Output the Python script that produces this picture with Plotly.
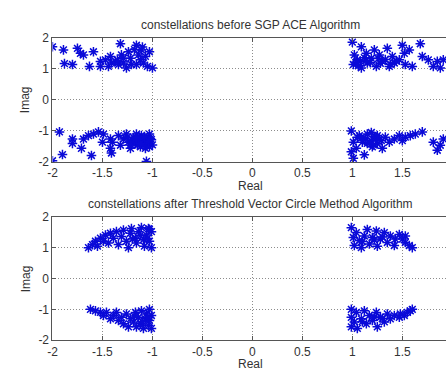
import plotly.graph_objects as go

# ---- data ----
before_x = [
    # top-left
    -2.0, -1.89, -1.88, -1.80, -1.75, -1.72, -1.69, -1.63, -1.59, -1.52, -1.52, -1.47, -1.42, -1.41,
    -1.37, -1.34, -1.32, -1.31, -1.29, -1.26, -1.24, -1.22, -1.21, -1.16, -1.14, -1.12, -1.11, -1.09,
    -1.05, -1.03, -1.0, -1.16, -1.07, -1.44, -1.29, -1.18, -1.10, -1.35,
    # bottom-left
    -1.93, -1.90, -2.0, -1.80, -1.80, -1.71, -1.69, -1.64, -1.61, -1.59, -1.54, -1.50, -1.49, -1.42,
    -1.42, -1.41, -1.40, -1.34, -1.32, -1.29, -1.26, -1.24, -1.22, -1.19, -1.17, -1.16, -1.14, -1.12,
    -1.11, -1.09, -1.07, -1.06, -1.04, -1.03, -1.03, -1.06, -1.20, -1.15, -1.10, -1.05, -1.13, -1.08,
    -1.25, -1.18, -1.02, -1.00, -1.12, -1.04, -1.16, -1.08, -1.01, -1.22,
    # top-right
    1.0, 1.09, 1.02, 1.01, 1.05, 1.09, 1.14, 1.15, 1.19, 1.22, 1.24, 1.27, 1.30, 1.35, 1.37, 1.40,
    1.42, 1.47, 1.50, 1.52, 1.53, 1.57, 1.60, 1.68, 1.70, 1.76, 1.81, 1.85, 1.88, 1.91, 1.08, 1.28,
    1.18, 1.12, 1.33, 1.44, 1.04, 1.14, 1.26, 1.38, 1.06,
    # bottom-right
    0.99, 1.01, 0.99, 1.01, 1.04, 1.07, 1.10, 1.12, 1.15, 1.19, 1.20, 1.24, 1.25, 1.29, 1.30, 1.33,
    1.37, 1.42, 1.47, 1.50, 1.53, 1.58, 1.63, 1.70, 1.81, 1.85, 1.88, 1.91, 1.19, 1.22, 1.27, 1.15,
    1.05, 1.21, 1.13, 1.17, 1.25, 1.09,
]
before_y = [
    1.71, 1.61, 1.17, 1.14, 1.66, 1.50, 1.45, 1.08, 1.55, 1.08, 1.24, 1.29, 1.40, 1.19,
    1.24, 1.14, 1.81, 1.45, 1.19, 1.03, 1.55, 1.34, 1.14, 1.76, 1.45, 1.29, 1.61, 1.19,
    1.08, 1.55, 1.03, 1.14, 1.40, 1.08, 1.34, 1.62, 1.70, 1.28,
    -1.03, -1.76, -1.96, -1.26, -1.40, -1.56, -1.26, -1.15, -1.79, -1.10, -1.03, -1.36, -1.10, -1.26,
    -1.56, -1.71, -1.36, -1.15, -1.46, -1.26, -1.10, -1.36, -1.56, -1.21, -1.41, -1.10, -1.31, -1.51,
    -1.15, -1.36, -1.56, -1.26, -1.41, -1.10, -1.51, -1.98, -1.30, -1.45, -1.25, -1.30, -1.20, -1.45,
    -1.20, -1.35, -1.25, -1.45, -1.40, -1.33, -1.22, -1.18, -1.28, -1.45,
    1.86, 1.71, 1.45, 1.14, 1.29, 1.03, 1.50, 1.19, 1.34, 1.61, 1.08, 1.45, 1.24, 1.66, 1.08, 1.40,
    1.19, 1.29, 1.76, 1.50, 1.14, 1.61, 1.08, 1.81, 1.40, 1.29, 1.08, 1.24, 1.03, 1.29, 1.24, 1.18,
    1.20, 1.36, 1.30, 1.25, 1.22, 1.28, 1.33, 1.15, 1.10,
    -1.0, -1.36, -1.67, -1.88, -1.56, -1.15, -1.36, -1.77, -1.10, -1.31, -1.51, -1.20, -1.41, -1.31,
    -1.56, -1.20, -1.36, -1.26, -1.15, -1.31, -1.20, -1.15, -1.10, -1.03, -1.36, -1.62, -1.46, -1.26,
    -1.05, -1.18, -1.28, -1.40, -1.20, -1.45, -1.25, -1.38, -1.15, -1.22,
]

after_x = [
    # top-left
    -1.64, -1.60, -1.57, -1.55, -1.52, -1.49, -1.47, -1.44, -1.42, -1.39, -1.36, -1.34, -1.31, -1.29,
    -1.26, -1.24, -1.22, -1.21, -1.17, -1.16, -1.14, -1.11, -1.09, -1.08, -1.06, -1.04, -1.03, -1.01,
    -1.01, -1.03, -1.12, -1.20, -1.05,
    # bottom-left
    -1.62, -1.57, -1.52, -1.49, -1.46, -1.42, -1.39, -1.36, -1.34, -1.31, -1.29, -1.26, -1.24, -1.22,
    -1.19, -1.17, -1.16, -1.14, -1.12, -1.11, -1.09, -1.07, -1.06, -1.04, -1.03, -1.03, -1.01, -1.01,
    -1.18, -1.10, -1.05,
    # top-right
    0.99, 1.01, 1.02, 1.04, 1.07, 1.09, 1.12, 1.15, 1.17, 1.20, 1.24, 1.25, 1.28, 1.32, 1.35, 1.38,
    1.42, 1.43, 1.47, 1.50, 1.53, 1.57, 1.60, 1.53, 1.10, 1.22, 1.30,
    # bottom-right
    0.99, 0.99, 0.99, 1.02, 1.04, 1.05, 1.09, 1.12, 1.14, 1.17, 1.20, 1.24, 1.25, 1.28, 1.32, 1.35,
    1.38, 1.42, 1.47, 1.52, 1.55, 1.58, 1.60, 1.48, 1.22, 1.10, 1.30,
]
after_y = [
    1.0, 1.10, 1.21, 1.05, 1.31, 1.21, 1.41, 1.15, 1.47, 1.31, 1.52, 1.10, 1.36, 1.57,
    1.21, 1.0, 1.47, 1.62, 1.31, 1.15, 1.52, 1.65, 1.26, 1.05, 1.41, 1.62, 1.21, 1.0,
    1.52, 1.60, 1.40, 1.28, 1.30,
    -1.0, -1.05, -1.10, -1.20, -1.10, -1.31, -1.20, -1.10, -1.36, -1.26, -1.47, -1.15, -1.57, -1.31,
    -1.41, -1.10, -1.57, -1.26, -1.47, -1.05, -1.62, -1.31, -1.15, -1.52, -1.0, -1.36, -1.62, -1.20,
    -1.22, -1.40, -1.28,
    1.65, 1.33, 1.07, 1.49, 1.23, 1.0, 1.38, 1.59, 1.12, 1.33, 1.54, 1.05, 1.28, 1.49, 1.17, 1.38,
    1.07, 1.28, 1.43, 1.28, 1.17, 1.07, 1.0, 1.38, 1.20, 1.25, 1.35,
    -1.0, -1.26, -1.57, -1.41, -1.10, -1.62, -1.31, -1.05, -1.47, -1.20, -1.36, -1.10, -1.57, -1.26,
    -1.41, -1.15, -1.31, -1.20, -1.26, -1.20, -1.10, -1.05, -1.0, -1.15, -1.25, -1.40, -1.30,
]

x_ticks = [-2, -1.5, -1, -0.5, 0, 0.5, 1, 1.5, 2]
x_tick_text = ["-2", "-1.5", "-1", "-0.5", "0", "0.5", "1", "1.5", "2"]
y_ticks = [-2, -1, 0, 1, 2]
y_tick_text = ["-2", "-1", "0", "1", "2"]
titles = ["constellations before SGP ACE Algorithm",
          "constellations after Threshold Vector Circle Method Algorithm"]

W, H = 446, 376
marker = dict(symbol="asterisk-open", size=8, color="#0a0ad8",
              line=dict(color="#0a0ad8", width=1.5))

fig = go.Figure()
fig.add_trace(go.Scatter(x=before_x, y=before_y, mode="markers", marker=marker,
                         xaxis="x", yaxis="y", showlegend=False))
fig.add_trace(go.Scatter(x=after_x, y=after_y, mode="markers", marker=marker,
                         xaxis="x2", yaxis="y2", showlegend=False))

xdom = [48 / W, 1.0]
ydom1 = [1 - 161 / H, 1 - 32 / H]
ydom2 = [1 - 346 / H, 1 - 218 / H]

tickfont = dict(family="Liberation Sans, Arial", size=12, color="#333333")
common_x = dict(range=[-2, 1.937], tickvals=x_ticks, ticktext=x_tick_text,
                showgrid=True, gridcolor="#8c8c8c", griddash="1px,2px", gridwidth=1,
                zeroline=False, showline=True, linecolor="#555555", linewidth=1,
                mirror="ticks", ticks="inside", ticklen=4, tickcolor="#555555",
                tickfont=tickfont, domain=xdom)
common_y = dict(range=[-2, 2], tickvals=y_ticks, ticktext=y_tick_text,
                showgrid=True, gridcolor="#8c8c8c", griddash="1px,2px", gridwidth=1,
                zeroline=False, showline=True, linecolor="#555555", linewidth=1,
                mirror=False, ticks="inside", ticklen=4, tickcolor="#555555",
                tickfont=tickfont)

fig.update_layout(
    width=W, height=H,
    margin=dict(l=0, r=0, t=0, b=0),
    paper_bgcolor="white", plot_bgcolor="white",
    xaxis=dict(**common_x, anchor="y"),
    yaxis=dict(**common_y, domain=ydom1, anchor="x"),
    xaxis2=dict(**common_x, anchor="y2"),
    yaxis2=dict(**common_y, domain=ydom2, anchor="x2"),
)

labfont = dict(family="Liberation Sans, Arial", size=12, color="#333333")
ann = []
for t, ytop, ybot, ymid in [(titles[0], 32, 161, 96), (titles[1], 218, 346, 282)]:
    ann.append(dict(text=t, x=248 / W, y=1 - (ytop - 13) / H, xref="paper", yref="paper",
                    showarrow=False, font=labfont, xanchor="center", yanchor="middle"))
    ann.append(dict(text="Real", x=248 / W, y=1 - (ybot + 25) / H, xref="paper", yref="paper",
                    showarrow=False, font=labfont, xanchor="center", yanchor="middle"))
    ann.append(dict(text="Imag", x=21 / W, y=1 - ymid / H, xref="paper", yref="paper",
                    showarrow=False, font=labfont, textangle=-90,
                    xanchor="center", yanchor="middle"))
fig.update_layout(annotations=ann)

fig.write_html("out.html")
